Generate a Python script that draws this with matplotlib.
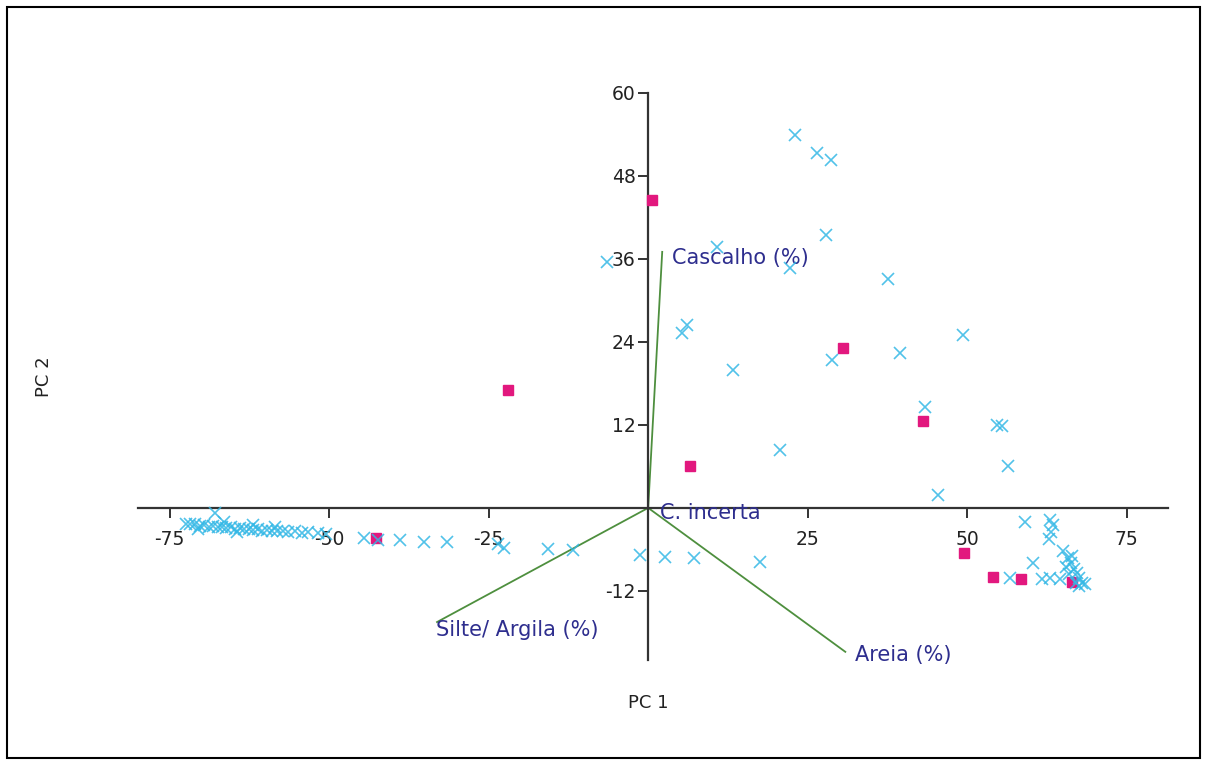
import numpy as np
import matplotlib.pyplot as plt
from matplotlib.patches import Rectangle

plt.rcParams['axes.unicode_minus'] = False

# scores - group 1 (cyan crosses)
cx = [-72.5, -71.8, -71.0, -70.3, -69.6, -68.9, -68.2, -67.5, -66.8, -66.1,
      -65.4, -64.7, -64.0, -63.3, -62.6, -61.9, -61.2, -60.5, -59.8, -59.0,
      -58.2, -57.3, -56.4, -55.4, -54.3, -53.3, -51.8, -50.5, -67.9, -70.5,
      -66.5, -62.0, -58.5, -64.5,
      -44.6, -42.3, -38.9, -35.2, -31.5, -23.6, -22.6, -15.7, -11.8,
      -1.3, 2.7, 7.2, 17.6,
      23.0, 26.5, 28.7, 27.9, 10.8, 22.3, -6.4, 37.6, 6.1, 5.3, 13.3, 28.8,
      39.5, 49.4, 43.4, 20.7, 54.7, 55.5, 56.4, 45.5,
      59.1, 63.0, 63.5, 63.2, 62.8,
      65.0, 65.8, 66.2, 66.8, 67.2, 66.0, 67.6, 68.0, 67.0, 68.4, 65.5, 66.5,
      64.5, 63.0, 61.7, 60.3, 56.7, 67.5]
cy = [-2.3, -2.4, -2.3, -2.6, -2.5, -2.7, -2.6, -2.8, -2.7, -2.9,
      -2.8, -3.0, -2.9, -3.1, -3.0, -3.2, -3.1, -3.3, -3.2, -3.3,
      -3.4, -3.3, -3.5, -3.4, -3.6, -3.5, -3.7, -3.8, -0.7, -3.1,
      -2.1, -2.5, -2.8, -3.5,
      -4.4, -4.6, -4.7, -5.0, -5.0, -5.2, -5.8, -5.9, -6.1,
      -6.8, -7.1, -7.2, -7.8,
      53.9, 51.3, 50.3, 39.5, 37.7, 34.7, 35.5, 33.1, 26.4, 25.3, 19.9, 21.4,
      22.4, 25.0, 14.6, 8.4, 12.0, 11.8, 6.1, 1.9,
      -2.0, -1.8, -2.5, -3.5, -4.5,
      -6.3, -7.2, -8.0, -8.8, -9.4, -9.6, -10.2, -10.8, -10.9, -11.0, -8.5, -7.0,
      -10.3, -10.2, -10.3, -8.0, -10.1, -11.3]

# scores - group 2 (magenta squares)
mx = [0.6, -21.9, 6.6, 30.6, 43.1, 49.5, 54.1, 58.5, 66.5, -42.6]
my = [44.5, 17.1, 6.1, 23.1, 12.6, -6.5, -10.0, -10.3, -10.7, -4.3]

# loadings
var_names = ['Cascalho (%)', 'Silte/ Argila (%)', 'Areia (%)', 'C. incerta']
load_x = [2.2, -33.1, 30.9, 0.0]
load_y = [37.0, -16.5, -20.8, 0.0]

fig = plt.figure(figsize=(12.08, 7.65), dpi=100)
ax = fig.add_axes([0.1035, 0.119, 0.8767, 0.796])
ax.set_xlim(-82, 84)
ax.set_ylim(-24, 64)

for s in ['top', 'right']:
    ax.spines[s].set_visible(False)
ax.spines['bottom'].set_position(('data', 0))
ax.spines['left'].set_position(('data', 0))
ax.spines['bottom'].set_bounds(-80, 81.5)
ax.spines['left'].set_bounds(-22, 60)
for s in ['bottom', 'left']:
    ax.spines[s].set_color('#333333')
    ax.spines[s].set_linewidth(1.6)

ax.set_xticks([-75, -50, -25, 25, 50, 75])
ax.set_yticks([-12, 12, 24, 36, 48, 60])
ax.tick_params(direction='out', length=7, width=1.4, color='#333333',
               labelsize=13.5, labelcolor='#222222')
ax.tick_params(axis='x', pad=9)
ax.tick_params(axis='y', pad=2)

green = '#4e8f3e'
navy = '#2e2e8e'
for i in range(len(var_names)):
    ax.plot([0, load_x[i]], [0, load_y[i]], color=green, lw=1.3, zorder=2)

lab_x = [3.7, -33.2, 32.4, 1.9]
lab_y = [36.1, -17.6, -21.2, -0.7]
for i in range(len(var_names)):
    ax.text(lab_x[i], lab_y[i], var_names[i], color=navy, fontsize=15,
            va='center')

ax.plot(mx, my, 's', color='#e2187e', markersize=7.5, zorder=3, ls='none')
ax.plot(cx, cy, 'x', color='#33b8e6', markersize=8, mew=1.2, alpha=0.85,
        zorder=4, ls='none')

fig.text(648 / 1208, 1 - 703 / 765, 'PC 1', fontsize=13, ha='center',
         va='center', color='#222222')
fig.text(44 / 1208, 1 - 377 / 765, 'PC 2', fontsize=13, ha='center',
         va='center', rotation=90, color='#222222')

fig.patches.append(Rectangle((7 / 1208, 7 / 765), 1193 / 1208, 751 / 765,
                             transform=fig.transFigure, fill=False,
                             edgecolor='black', lw=1.5))

fig.savefig('out.png', dpi=100)
